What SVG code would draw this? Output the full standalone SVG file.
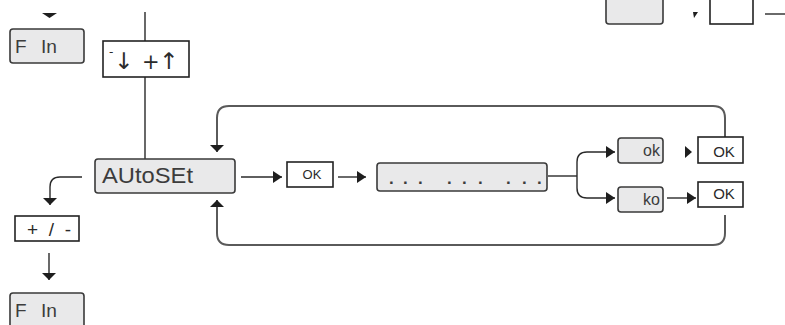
<svg xmlns="http://www.w3.org/2000/svg" width="785" height="325" viewBox="0 0 785 325">
<style>
.lcd{fill:#e9e9ea;stroke:#3a3a3a;stroke-width:1.6}
.key{fill:#fff;stroke:#222;stroke-width:1.6}
.t{font-family:"Liberation Sans","DejaVu Sans",sans-serif;fill:#3c3c3c}
.k{font-family:"Liberation Sans","DejaVu Sans",sans-serif;fill:#2a2a2a}
.a{font-family:"DejaVu Sans",sans-serif;fill:#2a2a2a}
.c{fill:none;stroke:#2a2a2a;stroke-width:1.4}
.loop{fill:none;stroke:#5a5a5a;stroke-width:2}
.head{fill:#1e1e1e}
</style>
<defs>
<marker id="ah" viewBox="0 0 9 12" refX="9" refY="6" markerWidth="9" markerHeight="12" markerUnits="userSpaceOnUse" orient="auto"><path d="M0,0 L9,6 L0,12 z" fill="#1e1e1e"/></marker>
<marker id="av" viewBox="0 0 7 14" refX="7" refY="7" markerWidth="7" markerHeight="14" markerUnits="userSpaceOnUse" orient="auto"><path d="M0,0 L7,7 L0,14 z" fill="#1e1e1e"/></marker>
</defs>
<g id="connectors">
<polygon class="head" points="42,13 57,13 49.5,18"/>
<path class="c" d="M145,12 V41 M145,77 V159"/>
<path class="c" d="M82,177 H60 Q50,177 50,187 V205" marker-end="url(#av)"/>
<path class="c" d="M49,253 V280" marker-end="url(#av)"/>
<path class="c" d="M241,177 H282" marker-end="url(#ah)"/>
<path class="c" d="M338,177 H366" marker-end="url(#ah)"/>
<path class="c" d="M548,176 H577"/>
<path class="c" d="M577,176 V162 Q577,152 587,152 H615" marker-end="url(#ah)"/>
<path class="c" d="M577,176 V188 Q577,198 587,198 H615" marker-end="url(#ah)"/>
<polygon class="head" points="685,146 692,152 685,158"/>
<path class="c" d="M667,198 H696" marker-end="url(#ah)"/>
<path class="loop" d="M725,137 V118 Q725,106 713,106 H229 Q217,106 217,118 V152" marker-end="url(#av)"/>
<path class="loop" d="M725,215 V233 Q725,245 713,245 H229 Q217,245 217,233 V200" marker-end="url(#av)"/>
<polygon class="head" points="693,12 698,12 694,18"/>
<path class="c" d="M765,14 H785"/>
</g>
<g id="fin-top">
<rect class="lcd" x="10" y="29" width="74" height="34" rx="3"/>
<text class="t" x="15" y="53" font-size="19">F</text>
<text class="t" x="41" y="53" font-size="19" textLength="16" lengthAdjust="spacingAndGlyphs">In</text>
</g>
<g id="key-updown">
<rect class="key" x="103" y="41" width="86" height="36"/>
<text class="a" x="109" y="56" font-size="12">-</text>
<text class="a" x="114" y="69" font-size="23">↓</text>
<text class="a" x="142" y="69" font-size="21">+</text>
<text class="a" x="159" y="69" font-size="23">↑</text>
</g>
<g id="autoset">
<rect class="lcd" x="95" y="159" width="140" height="34" rx="3"/>
<text class="t" x="102" y="183" font-size="22" textLength="91" lengthAdjust="spacingAndGlyphs">AUtoSEt</text>
</g>
<g id="key-pm">
<rect class="key" x="15" y="216" width="64" height="25"/>
<text class="k" x="27" y="236" font-size="19" textLength="44" lengthAdjust="spacing">+/-</text>
</g>
<g id="fin-bottom">
<rect class="lcd" x="10" y="293" width="74" height="40" rx="3"/>
<text class="t" x="15" y="317" font-size="19">F</text>
<text class="t" x="41" y="317" font-size="19" textLength="16" lengthAdjust="spacingAndGlyphs">In</text>
</g>
<g id="ok1">
<rect class="key" x="287" y="162" width="46" height="25"/>
<text class="k" x="312" y="179" font-size="13" text-anchor="middle">OK</text>
</g>
<g id="progress">
<rect class="lcd" x="377" y="163" width="170" height="28" rx="3"/>
<text class="t" x="389 403 418 447 462 478 506 522 537" y="184" font-size="17" font-weight="bold">.........</text>
</g>
<g id="ok-disp">
<rect class="lcd" x="618" y="138" width="45" height="25" rx="3"/>
<text class="t" x="660" y="156" font-size="16" text-anchor="end">ok</text>
</g>
<g id="ko-disp">
<rect class="lcd" x="618" y="187" width="45" height="25" rx="3"/>
<text class="t" x="660" y="205" font-size="16" text-anchor="end">ko</text>
</g>
<g id="ok2">
<rect class="key" x="698" y="137" width="45" height="26"/>
<text class="k" x="724" y="157" font-size="15" text-anchor="middle">OK</text>
</g>
<g id="ok3">
<rect class="key" x="698" y="182" width="45" height="25"/>
<text class="k" x="724" y="199" font-size="15" text-anchor="middle">OK</text>
</g>
<g id="top-disp">
<rect class="lcd" x="606" y="-10" width="57" height="34" rx="3"/>
</g>
<g id="top-key">
<rect class="key" x="710" y="-10" width="43" height="34"/>
</g>
</svg>
